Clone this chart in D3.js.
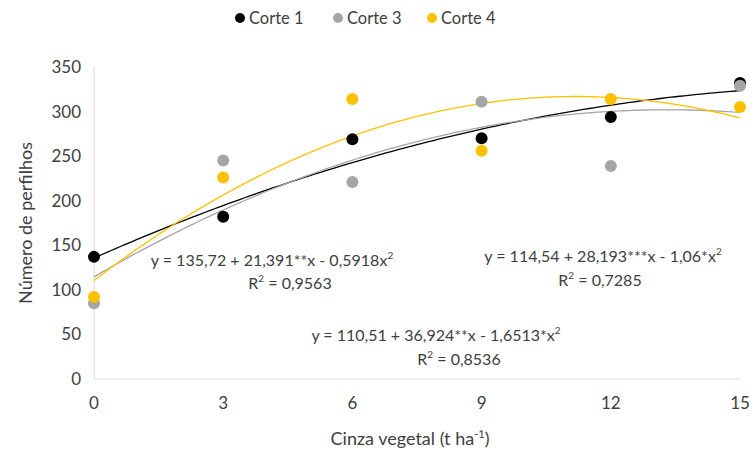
<!DOCTYPE html>
<html>
<head>
<meta charset="utf-8">
<script src="https://cdn.jsdelivr.net/npm/d3@7"></script>
<style>
  body { margin: 0; background: #fff; }
  svg text { font-family: Lato, "Open Sans", sans-serif; fill: #404040; }
</style>
</head>
<body>
<div id="chart"></div>
<script>
const doses = [0, 3, 6, 9, 12, 15];
const corte1 = [137, 182, 269, 270, 294, 332];
const corte3 = [85, 245, 221, 311, 239, 329];
const corte4 = [92, 226, 314, 256, 314, 305];
const xTicks = [0, 3, 6, 9, 12, 15];
const yTicks = [0, 50, 100, 150, 200, 250, 300, 350];

// quadratic fits as printed on the chart
const fits = [
    {name: "Corte 1", color: "#000000", values: corte1, c: [135.72, 21.391, -0.5918]},
    {name: "Corte 3", color: "#a5a5a5", values: corte3, c: [114.54, 28.193, -1.06]},
    {name: "Corte 4", color: "#ffc000", values: corte4, c: [110.51, 36.924, -1.6513]}
];

const width = 753, height = 456;
const margin = {left: 94, right: 13, top: 67, bottom: 77};

const svg = d3.select("#chart").append("svg")
    .attr("width", width)
    .attr("height", height);

const x = d3.scaleLinear().domain([0, 15]).range([margin.left, width - margin.right]);
const y = d3.scaleLinear().domain([0, 350]).range([height - margin.bottom, margin.top]);

// axes
svg.append("line")
    .attr("x1", x(0)).attr("x2", x(0))
    .attr("y1", y(0)).attr("y2", y(350))
    .attr("stroke", "#d9d9d9");
svg.append("line")
    .attr("x1", x(0)).attr("x2", x(15))
    .attr("y1", y(0)).attr("y2", y(0))
    .attr("stroke", "#d9d9d9");

svg.selectAll(".ytick")
    .data(yTicks)
    .enter()
    .append("text")
    .attr("x", x(0) - 13)
    .attr("y", d => y(d))
    .attr("dy", "0.35em")
    .attr("text-anchor", "end")
    .attr("font-size", 17)
    .text(d => d);

svg.selectAll(".xtick")
    .data(xTicks)
    .enter()
    .append("text")
    .attr("x", d => x(d))
    .attr("y", y(0) + 30)
    .attr("text-anchor", "middle")
    .attr("font-size", 17)
    .text(d => d);

svg.append("text")
    .attr("transform", `translate(32,${(y(0) + y(350)) / 2}) rotate(-90)`)
    .attr("text-anchor", "middle")
    .attr("font-size", 18)
    .text("Número de perfilhos");

const xt = svg.append("text")
    .attr("x", 410)
    .attr("y", 445)
    .attr("text-anchor", "middle")
    .attr("font-size", 18);
xt.append("tspan").text("Cinza vegetal (t ha");
xt.append("tspan").attr("font-size", 11).attr("dy", -7).text("-1");
xt.append("tspan").attr("dy", 7).text(")");

// trend lines
const line = d3.line().x(d => x(d[0])).y(d => y(d[1])).curve(d3.curveLinear);
fits.forEach(f => {
    const pts = d3.range(0, 15.01, 0.1).map(t => [t, f.c[0] + f.c[1] * t + f.c[2] * t * t]);
    svg.append("path")
        .datum(pts)
        .attr("d", line)
        .attr("fill", "none")
        .attr("stroke", f.color)
        .attr("stroke-width", 1.3);
});

// points
fits.forEach(f => {
    svg.append("g")
        .selectAll("circle")
        .data(f.values)
        .enter()
        .append("circle")
        .attr("cx", (d, i) => x(doses[i]))
        .attr("cy", d => y(d))
        .attr("r", 6)
        .attr("fill", f.color);
});

// equations
const eqs = [
    {x: 272, y: 266, rx: 290, ry: 289, parts: ["y = 135,72 + 21,391**x - 0,5918x", "2"], r2: "0,9563"},
    {x: 603, y: 262, rx: 600, ry: 286, parts: ["y = 114,54 + 28,193***x - 1,06*x", "2"], r2: "0,7285"},
    {x: 436, y: 341, rx: 459, ry: 365, parts: ["y = 110,51 + 36,924**x - 1,6513*x", "2"], r2: "0,8536"}
];
eqs.forEach(e => {
    const t = svg.append("text")
        .attr("x", e.x)
        .attr("y", e.y)
        .attr("text-anchor", "middle")
        .attr("font-size", 16);
    t.append("tspan").text(e.parts[0]);
    t.append("tspan").attr("font-size", 10).attr("dy", -7).text(e.parts[1]);
    const r = svg.append("text")
        .attr("x", e.rx)
        .attr("y", e.ry)
        .attr("text-anchor", "middle")
        .attr("font-size", 16);
    r.append("tspan").text("R");
    r.append("tspan").attr("font-size", 10).attr("dy", -7).text("2");
    r.append("tspan").attr("dy", 7).text(" = " + e.r2);
});

// legend
const legendX = [240, 338, 432];
fits.forEach((f, i) => {
    svg.append("circle")
        .attr("cx", legendX[i])
        .attr("cy", 18)
        .attr("r", 5)
        .attr("fill", f.color);
    svg.append("text")
        .attr("x", legendX[i] + 9)
        .attr("y", 18)
        .attr("dy", "0.35em")
        .attr("font-size", 16.5)
        .text(f.name);
});
</script>
</body>
</html>
